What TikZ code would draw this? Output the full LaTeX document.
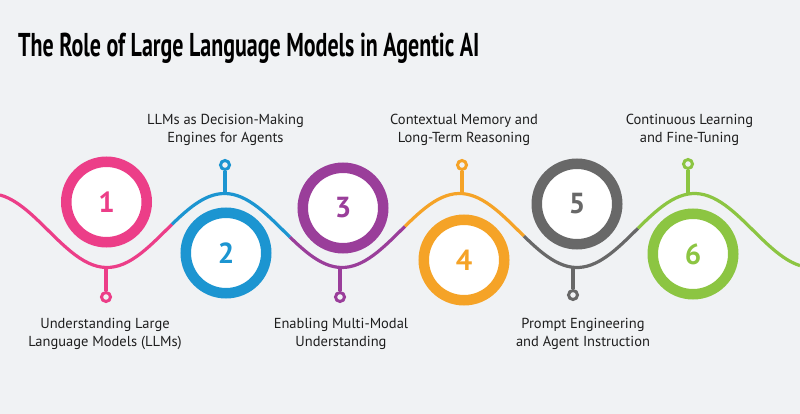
\documentclass[tikz,border=0pt]{standalone}
\usepackage{fontspec}
\setmainfont{PT Sans}
\usetikzlibrary{positioning}

\definecolor{bgcol}{HTML}{F0F2F4}
\definecolor{txtcol}{HTML}{1E1E1E}
\definecolor{pinkc}{HTML}{EC3E88}
\definecolor{bluec}{HTML}{1C95D1}
\definecolor{purplec}{HTML}{9A3E9A}
\definecolor{orangec}{HTML}{F5A327}
\definecolor{grayc}{HTML}{686868}
\definecolor{greenc}{HTML}{8CC542}

\begin{document}
\begin{tikzpicture}[
  x=1pt, y=-1pt,
  ring/.style={circle, draw, line width=10.5pt, fill=white, minimum size=80.5pt,
               inner sep=0pt, font=\fontsize{29}{29}\selectfont\bfseries},
  pin/.style={circle, draw, line width=3pt, fill=bgcol, minimum size=9pt, inner sep=0pt},
  stem/.style={line width=3.2pt},
  wave/.style={line width=3.2pt},
  lbl/.style={align=center, text=txtcol, font=\fontsize{14.5}{18.5}\selectfont},
]

% ---------------- canvas ----------------
\fill[bgcol] (0,0) rectangle (800,414);
\useasboundingbox (0,0) rectangle (800,414);

% ---------------- title ----------------
\node[anchor=base west, inner sep=0pt, text=black,
      font=\fontsize{33}{33}\selectfont\bfseries] (title) at (18,57)
  {\scalebox{0.666}[1]{The Role of Large Language Models in Agentic AI}};

% ---------------- wave ----------------
\draw[wave, pinkc]   plot[domain=0:172, samples=40]   (\x, {230.5+37*cos(1.5319*(\x-107))});
\draw[wave, bluec]   plot[domain=172:290, samples=30] (\x, {230.5+37*cos(1.5319*(\x-107))});
\draw[wave, purplec] plot[domain=290:405, samples=30] (\x, {230.5+37*cos(1.5319*(\x-107))});
\draw[wave, orangec] plot[domain=405:524, samples=30] (\x, {230.5+37*cos(1.5319*(\x-107))});
\draw[wave, grayc]   plot[domain=524:638, samples=30] (\x, {230.5+37*cos(1.5319*(\x-107))});
\draw[wave, greenc]  plot[domain=638:800, samples=40] (\x, {230.5+37*cos(1.5319*(\x-107))});

% ---------------- stems and pins ----------------
\coordinate (w1) at (106,267.5);
\coordinate (w2) at (225,193.5);
\coordinate (w3) at (340,267.5);
\coordinate (w4) at (462,193.5);
\coordinate (w5) at (573,267.5);
\coordinate (w6) at (688,193.5);

\node[pin, draw=pinkc]   (p1) at (106,297) {};
\node[pin, draw=bluec]   (p2) at (225,165) {};
\node[pin, draw=purplec] (p3) at (340,297) {};
\node[pin, draw=orangec] (p4) at (462,165) {};
\node[pin, draw=grayc]   (p5) at (573,295) {};
\node[pin, draw=greenc]  (p6) at (688,164) {};

\draw[stem, pinkc]   (w1) -- (p1.north);
\draw[stem, bluec]   (w2) -- (p2.south);
\draw[stem, purplec] (w3) -- (p3.north);
\draw[stem, orangec] (w4) -- (p4.south);
\draw[stem, grayc]   (w5) -- (p5.north);
\draw[stem, greenc]  (w6) -- (p6.south);

% ---------------- numbered rings ----------------
\node[ring, draw=pinkc,   text=pinkc]   (c1) at (106.5,202) {1};
\node[ring, draw=bluec,   text=bluec]   (c2) at (226,253)   {2};
\node[ring, draw=purplec, text=purplec] (c3) at (343,208)   {3};
\node[ring, draw=orangec, text=orangec] (c4) at (464,260)   {4};
\node[ring, draw=grayc,   text=grayc]   (c5) at (577,204)   {5};
\node[ring, draw=greenc,  text=greenc]  (c6) at (693,254)   {6};

% ---------------- labels ----------------
\node[lbl] (l1) at (105,334)   {Understanding Large\\Language Models (LLMs)};
\node[lbl] (l2) at (225.5,130) {LLMs as Decision-Making\\Engines for Agents};
\node[lbl] (l3) at (341,334)   {Enabling Multi-Modal\\Understanding};
\node[lbl] (l4) at (464,130)   {Contextual Memory and\\Long-Term Reasoning};
\node[lbl] (l5) at (583,334)   {Prompt Engineering\\and Agent Instruction};
\node[lbl] (l6) at (689.5,130) {Continuous Learning\\and Fine-Tuning};

\end{tikzpicture}
\end{document}
